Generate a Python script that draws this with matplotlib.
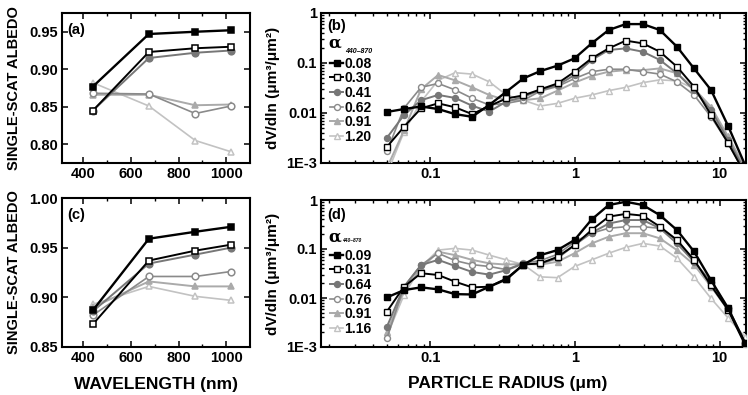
import numpy as np
import matplotlib
matplotlib.use('Agg')
import matplotlib.pyplot as plt
from matplotlib.ticker import FixedLocator, FuncFormatter, LogLocator, NullFormatter

plt.rcParams['font.family'] = ['Liberation Sans', 'DejaVu Sans']
plt.rcParams['font.weight'] = 'bold'

# wavelengths (nm) for panels (a) and (c)
wavelength = [440, 675, 870, 1020]

# single scattering albedo, panel (a)
alb_a_008 = [0.877, 0.947, 0.950, 0.952]
alb_a_030 = [0.845, 0.923, 0.928, 0.930]
alb_a_041 = [0.845, 0.915, 0.922, 0.925]
alb_a_062 = [0.868, 0.867, 0.841, 0.851]
alb_a_091 = [0.866, 0.866, 0.852, 0.853]
alb_a_120 = [0.882, 0.851, 0.805, 0.790]

# single scattering albedo, panel (c)
alb_c_009 = [0.887, 0.959, 0.966, 0.971]
alb_c_031 = [0.873, 0.937, 0.947, 0.953]
alb_c_064 = [0.886, 0.934, 0.943, 0.950]
alb_c_076 = [0.882, 0.921, 0.921, 0.926]
alb_c_091 = [0.890, 0.916, 0.911, 0.911]
alb_c_116 = [0.893, 0.911, 0.901, 0.897]

# particle radius bins (um)
radius = [0.05, 0.0656, 0.0861, 0.113, 0.148, 0.194, 0.255, 0.335, 0.439, 0.576, 0.756,
          0.992, 1.302, 1.708, 2.241, 2.940, 3.857, 5.061, 6.641, 8.713, 11.432, 15.0]

# size distributions, panel (b)
dv_b_008 = [0.0105, 0.012, 0.0135, 0.012, 0.0095, 0.0084, 0.0145, 0.0267, 0.0493, 0.069, 0.0885,
            0.124, 0.247, 0.457, 0.60, 0.60, 0.457, 0.212, 0.078, 0.0288, 0.0055, 0.0009]
dv_b_030 = [0.0021, 0.0053, 0.0124, 0.0156, 0.013, 0.0095, 0.0138, 0.0195, 0.0225, 0.0297, 0.039,
            0.067, 0.124, 0.196, 0.28, 0.247, 0.168, 0.0845, 0.0336, 0.0091, 0.0025, 0.0006]
dv_b_041 = [0.0032, 0.0091, 0.018, 0.023, 0.02, 0.014, 0.0107, 0.0169, 0.021, 0.0288, 0.036,
            0.0575, 0.115, 0.182, 0.196, 0.168, 0.115, 0.0624, 0.0288, 0.0115, 0.0029, 0.0007]
dv_b_062 = [0.0017, 0.0125, 0.0326, 0.039, 0.029, 0.0197, 0.0145, 0.0156, 0.018, 0.0275, 0.034,
            0.049, 0.067, 0.075, 0.075, 0.067, 0.06, 0.042, 0.0229, 0.0084, 0.0025, 0.0006]
dv_b_091 = [0.0008, 0.0045, 0.03, 0.0575, 0.045, 0.0326, 0.0229, 0.018, 0.018, 0.0197, 0.028,
            0.0405, 0.055, 0.067, 0.072, 0.072, 0.078, 0.0624, 0.031, 0.0133, 0.0034, 0.0008]
dv_b_120 = [0.0006, 0.0042, 0.0169, 0.045, 0.064, 0.06, 0.042, 0.0229, 0.018, 0.0138, 0.0156,
            0.0197, 0.0229, 0.028, 0.0326, 0.0405, 0.046, 0.044, 0.031, 0.011, 0.0025, 0.0006]

# size distributions, panel (d)
dv_d_009 = [0.0103, 0.0145, 0.0165, 0.015, 0.012, 0.0118, 0.017, 0.024, 0.048, 0.075, 0.095,
            0.153, 0.40, 0.79, 0.92, 0.79, 0.49, 0.244, 0.089, 0.023, 0.0062, 0.0012]
dv_d_031 = [0.0053, 0.017, 0.032, 0.0295, 0.0215, 0.0165, 0.017, 0.025, 0.048, 0.051, 0.069,
            0.12, 0.244, 0.457, 0.52, 0.48, 0.286, 0.153, 0.06, 0.018, 0.0057, 0.0011]
dv_d_064 = [0.0026, 0.017, 0.047, 0.06, 0.045, 0.034, 0.03, 0.037, 0.05, 0.05, 0.065,
            0.12, 0.215, 0.33, 0.39, 0.39, 0.265, 0.13, 0.055, 0.0215, 0.0062, 0.0012]
dv_d_076 = [0.0015, 0.017, 0.047, 0.082, 0.058, 0.048, 0.044, 0.038, 0.052, 0.058, 0.078,
            0.14, 0.21, 0.265, 0.285, 0.285, 0.265, 0.153, 0.06, 0.018, 0.0062, 0.0012]
dv_d_091 = [0.002, 0.0145, 0.04, 0.088, 0.075, 0.06, 0.051, 0.048, 0.05, 0.048, 0.055,
            0.082, 0.13, 0.178, 0.21, 0.21, 0.165, 0.095, 0.048, 0.017, 0.0057, 0.0012]
dv_d_116 = [0.0017, 0.0115, 0.043, 0.095, 0.103, 0.095, 0.075, 0.06, 0.048, 0.027, 0.026,
            0.044, 0.06, 0.082, 0.108, 0.13, 0.115, 0.065, 0.027, 0.0098, 0.0039, 0.0016]

labels_b = ['0.08', '0.30', '0.41', '0.62', '0.91', '1.20']
labels_d = ['0.09', '0.31', '0.64', '0.76', '0.91', '1.16']

# line/marker styles, black -> light gray
styles = [
    dict(color='black', marker='s', mfc='black', mec='black', lw=1.7),
    dict(color='black', marker='s', mfc='white', mec='black', lw=1.4),
    dict(color='#777777', marker='o', mfc='#777777', mec='#777777', lw=1.4),
    dict(color='#8a8a8a', marker='o', mfc='white', mec='#8a8a8a', lw=1.2),
    dict(color='#aaaaaa', marker='^', mfc='#aaaaaa', mec='#aaaaaa', lw=1.4),
    dict(color='#c2c2c2', marker='^', mfc='white', mec='#c2c2c2', lw=1.2),
]

fig = plt.figure(figsize=(7.48, 3.95), dpi=100)
W, H = 748.0, 395.0

def place(x0, y0, x1, y1):
    return fig.add_axes([x0 / W, 1 - y1 / H, (x1 - x0) / W, (y1 - y0) / H])

ax_a = place(62, 13, 250, 163)
ax_c = place(62, 198, 250, 347)
ax_b = place(321, 13, 746, 163)
ax_d = place(321, 200, 746, 347)

def style_axes(ax):
    for s in ax.spines.values():
        s.set_linewidth(1.5)
    ax.tick_params(which='both', direction='in', top=True, right=True, labelsize=10.5, pad=3)
    ax.tick_params(which='major', length=4, width=1.1)
    ax.tick_params(which='minor', length=2.5, width=1.0)

# albedo panels
for ax, series, tag, ylim, yt in [
        (ax_a, [alb_a_008, alb_a_030, alb_a_041, alb_a_062, alb_a_091, alb_a_120], '(a)',
         (0.775, 0.975), [0.80, 0.85, 0.90, 0.95]),
        (ax_c, [alb_c_009, alb_c_031, alb_c_064, alb_c_076, alb_c_091, alb_c_116], '(c)',
         (0.85, 1.00), [0.85, 0.90, 0.95, 1.00])]:
    for i in range(len(series) - 1, -1, -1):
        st = styles[i]
        ax.plot(wavelength, series[i], color=st['color'], lw=st['lw'], marker=st['marker'],
                mfc=st['mfc'], mec=st['mec'], ms=4.8, mew=1.1, zorder=10 - i)
    ax.set_xlim(310, 1100)
    ax.set_ylim(*ylim)
    ax.xaxis.set_major_locator(FixedLocator([400, 600, 800, 1000]))
    ax.xaxis.set_minor_locator(FixedLocator([500, 700, 900]))
    ax.yaxis.set_major_locator(FixedLocator(yt))
    ax.yaxis.set_major_formatter(FuncFormatter(lambda v, p: '%.2f' % v))
    style_axes(ax)
    ax.set_ylabel('SINGLE-SCAT ALBEDO', fontsize=10.5, fontweight='bold', labelpad=6)
    ax.text(0.03, 0.885, tag, transform=ax.transAxes, fontsize=10.5, fontweight='bold',
            va='center', ha='left')

ax_c.set_xlabel('WAVELENGTH (nm)', fontsize=12.5, fontweight='bold', labelpad=4)

def log_fmt(v, p):
    if v >= 1:
        return '%d' % round(v)
    if v >= 0.01:
        return ('%g' % v)
    return '1E-3'

# size distribution panels
for ax, series, labels, tag, tag_y, leg_top, a_y, sub_xy, sub_fs in [
        (ax_b, [dv_b_008, dv_b_030, dv_b_041, dv_b_062, dv_b_091, dv_b_120], labels_b, '(b)',
         0.915, 0.71, 0.80, (0.088, 0.745), 5),
        (ax_d, [dv_d_009, dv_d_031, dv_d_064, dv_d_076, dv_d_091, dv_d_116], labels_d, '(d)',
         0.895, 0.67, 0.745, (0.072, 0.722), 3.5)]:
    for i in range(len(series) - 1, -1, -1):
        st = styles[i]
        ax.plot(radius, series[i], color=st['color'], lw=st['lw'], marker=st['marker'],
                mfc=st['mfc'], mec=st['mec'], ms=4.3, mew=1.0, zorder=10 - i, label=labels[i])
    ax.set_xscale('log')
    ax.set_yscale('log')
    ax.set_xlim(0.0175, 15.2)
    ax.set_ylim(1e-3, 1)
    ax.xaxis.set_major_locator(FixedLocator([0.1, 1, 10]))
    ax.xaxis.set_minor_locator(LogLocator(base=10, subs=np.arange(2, 10)))
    ax.xaxis.set_minor_formatter(NullFormatter())
    ax.yaxis.set_major_locator(FixedLocator([1e-3, 1e-2, 1e-1, 1]))
    ax.yaxis.set_minor_locator(LogLocator(base=10, subs=np.arange(2, 10)))
    ax.yaxis.set_minor_formatter(NullFormatter())
    ax.xaxis.set_major_formatter(FuncFormatter(log_fmt))
    ax.yaxis.set_major_formatter(FuncFormatter(log_fmt))
    style_axes(ax)
    ax.set_ylabel('dV/dln (\u03bcm\u00b3/\u03bcm\u00b2)', fontsize=11, fontweight='bold', labelpad=4)
    ax.text(0.015, tag_y, tag, transform=ax.transAxes, fontsize=10.5, fontweight='bold',
            va='center', ha='left')
    ax.text(0.017, a_y, '\u03b1', transform=ax.transAxes, fontsize=12,
            va='center', ha='left', family='DejaVu Serif')
    ax.text(sub_xy[0], sub_xy[1], '440\u2013870', transform=ax.transAxes, fontsize=sub_fs,
            style='italic', va='center', ha='center')
    h, l = ax.get_legend_handles_labels()
    ax.legend(h[::-1], l[::-1], loc='upper left', bbox_to_anchor=(0.022, leg_top),
              frameon=False, fontsize=10, handlelength=0.9, handletextpad=0.1,
              labelspacing=0.05, borderpad=0, borderaxespad=0, markerscale=1.0)

ax_d.set_xlabel('PARTICLE RADIUS (\u03bcm)', fontsize=12.5, fontweight='bold')
ax_d.xaxis.set_label_coords(0.44, -0.2)
ax_c.xaxis.set_label_coords(0.5, -0.2)

fig.savefig('out.png', dpi=100)
